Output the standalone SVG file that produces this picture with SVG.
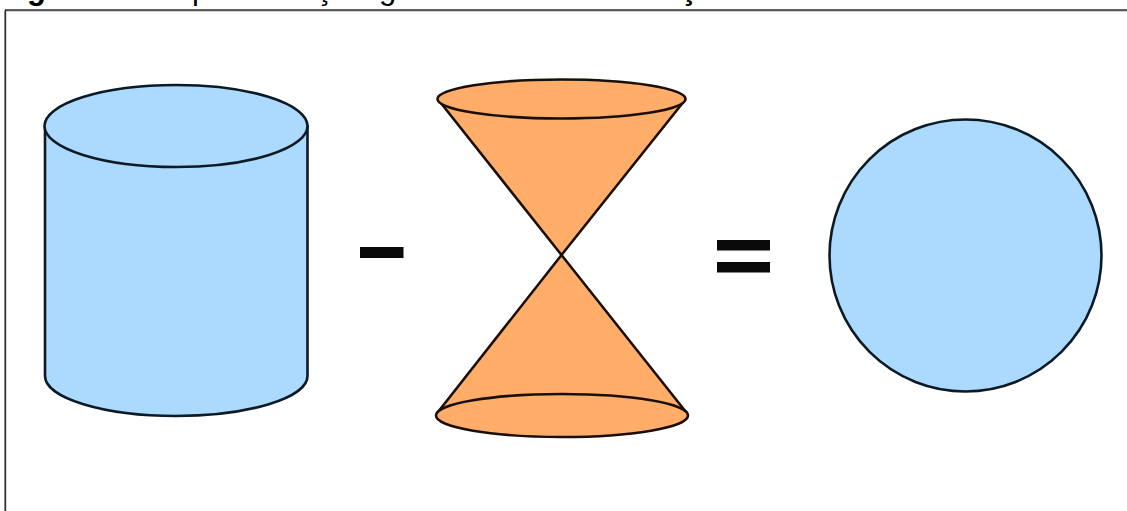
<svg xmlns="http://www.w3.org/2000/svg" width="1127" height="511" viewBox="0 0 1127 511">
<style>
.blue{fill:#acd9fe;stroke:#0c1a24;stroke-width:2.6;stroke-linejoin:round}
.orange{fill:#ffad69;stroke:#1a0f06;stroke-width:2.6;stroke-linejoin:round}
.op{fill:#0a0a0a}
.cap{font-family:"Liberation Sans",Arial,sans-serif;font-size:31px;fill:#000}
.frame{stroke:#2e2e2e;stroke-width:1.4;fill:none}
.frame2{stroke:#a0a0a0;stroke-width:1;fill:none}
</style>
<rect width="1127" height="511" fill="#fff"/>
<g id="caption">
<text class="cap" x="27" y="-1.5" font-weight="700">g</text>
<text class="cap" x="192" y="-1.5">p</text>
<text class="cap" x="316" y="-1.5">ç</text>
<text class="cap" x="379" y="-1.5">g</text>
<text class="cap" x="680" y="-1.5" font-weight="700">ç</text>
</g>
<g id="frame">
<path class="frame2" d="M1127 11H4.500V511"/>
<path class="frame" d="M1127 10H5.500V511"/>
</g>
<g id="cylinder">
<path class="blue" d="M45 126V376C45 398 104 416 176 416S307.500 398 307.500 376V126Z"/>
<ellipse class="blue" cx="176" cy="126" rx="131.500" ry="41"/>
</g>
<g id="minus"><rect class="op" x="360" y="247" width="43.500" height="11"/></g>
<g id="hourglass">
<path class="orange" d="M438.500 100L561.500 255L685 100Z"/>
<ellipse class="orange" cx="561.500" cy="99" rx="124" ry="19.500"/>
<path class="orange" d="M561.500 255L438 412H686Z"/>
<ellipse class="orange" cx="562" cy="415.500" rx="126" ry="21.500"/>
</g>
<g id="equals">
<rect class="op" x="717" y="240" width="53" height="10.500"/>
<rect class="op" x="717" y="262" width="53" height="10.500"/>
</g>
<g id="sphere"><circle class="blue" cx="965.500" cy="255.500" r="136"/></g>
</svg>
